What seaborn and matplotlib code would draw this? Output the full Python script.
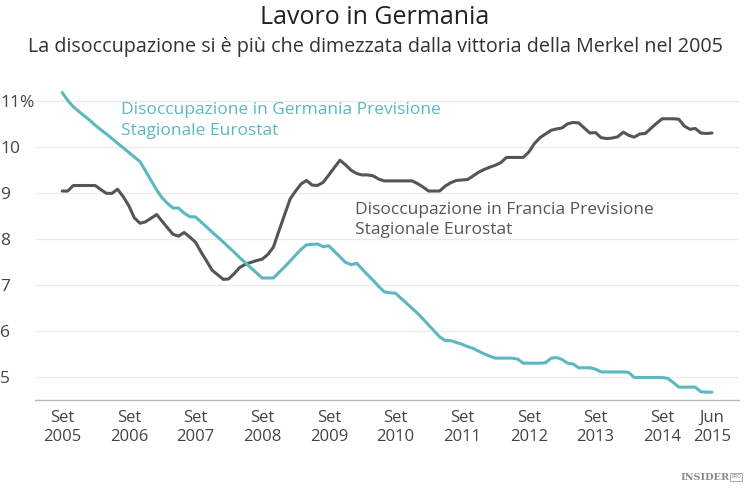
import pandas as pd
import matplotlib.pyplot as plt
import seaborn as sns

# dati mensili, set 2005 - giu 2015
germania = [11.18, 11.01, 10.87, 10.77, 10.67, 10.57, 10.47, 10.37, 10.28, 10.18,
            10.08, 9.98, 9.88, 9.78, 9.68, 9.48, 9.27, 9.06, 8.90, 8.77,
            8.67, 8.67, 8.56, 8.48, 8.48, 8.37, 8.26, 8.15, 8.04, 7.93,
            7.82, 7.71, 7.59, 7.48, 7.37, 7.26, 7.15, 7.15, 7.15, 7.27,
            7.39, 7.52, 7.64, 7.77, 7.87, 7.88, 7.89, 7.83, 7.85, 7.73,
            7.61, 7.49, 7.44, 7.47, 7.35, 7.22, 7.10, 6.97, 6.85, 6.83,
            6.82, 6.71, 6.60, 6.49, 6.38, 6.25, 6.13, 6.00, 5.87, 5.79,
            5.79, 5.75, 5.71, 5.66, 5.62, 5.56, 5.50, 5.45, 5.41, 5.41,
            5.41, 5.41, 5.39, 5.30, 5.30, 5.30, 5.30, 5.31, 5.41, 5.42,
            5.38, 5.30, 5.28, 5.20, 5.20, 5.20, 5.17, 5.11, 5.11, 5.11,
            5.11, 5.11, 5.10, 4.99, 4.99, 4.99, 4.99, 4.99, 4.99, 4.97,
            4.88, 4.78, 4.78, 4.78, 4.78, 4.68, 4.67, 4.67]
francia = [9.04, 9.04, 9.16, 9.16, 9.16, 9.16, 9.16, 9.07, 8.99, 8.99,
           9.08, 8.92, 8.72, 8.46, 8.34, 8.37, 8.45, 8.53, 8.39, 8.24,
           8.10, 8.06, 8.14, 8.04, 7.93, 7.72, 7.52, 7.32, 7.22, 7.12,
           7.13, 7.25, 7.38, 7.45, 7.49, 7.53, 7.56, 7.66, 7.82, 8.17,
           8.52, 8.87, 9.03, 9.19, 9.27, 9.17, 9.16, 9.23, 9.39, 9.55,
           9.71, 9.61, 9.49, 9.42, 9.39, 9.39, 9.37, 9.30, 9.26, 9.26,
           9.26, 9.26, 9.26, 9.26, 9.20, 9.12, 9.04, 9.04, 9.04, 9.15,
           9.22, 9.27, 9.28, 9.29, 9.37, 9.45, 9.51, 9.56, 9.60, 9.66,
           9.77, 9.77, 9.77, 9.77, 9.89, 10.07, 10.20, 10.28, 10.36, 10.39,
           10.41, 10.50, 10.53, 10.52, 10.41, 10.30, 10.31, 10.20, 10.18, 10.19,
           10.22, 10.32, 10.25, 10.21, 10.28, 10.29, 10.40, 10.51, 10.61, 10.61,
           10.61, 10.60, 10.45, 10.38, 10.40, 10.30, 10.29, 10.30]

mesi = pd.date_range('2005-09-01', periods=len(germania), freq='MS')
tick_date = ['2005-09-01', '2006-09-01', '2007-09-01', '2008-09-01', '2009-09-01',
             '2010-09-01', '2011-09-01', '2012-09-01', '2013-09-01', '2014-09-01',
             '2015-06-01']
tick_lab = ['Set\n2005', 'Set\n2006', 'Set\n2007', 'Set\n2008', 'Set\n2009',
            'Set\n2010', 'Set\n2011', 'Set\n2012', 'Set\n2013', 'Set\n2014',
            'Jun\n2015']
y_ticks = [5, 6, 7, 8, 9, 10, 11]
y_lab = ['5', '6', '7', '8', '9', '10', '11%']

df = pd.DataFrame({'mese': mesi, 'Germania': germania, 'Francia': francia})

sns.set_theme(style='white')
plt.rcParams['font.family'] = ['Open Sans', 'DejaVu Sans']

teal = '#5cb8bf'
grigio = '#555555'

fig = plt.figure(figsize=(7.5, 4.92), dpi=100)
ax = fig.add_axes([35 / 750, 1 - 400 / 492, 704 / 750, 313 / 492])

sns.lineplot(data=df, x='mese', y='Francia', color=grigio, lw=2.2, ax=ax)
sns.lineplot(data=df, x='mese', y='Germania', color=teal, lw=2.2, ax=ax)

ax.set_xlim(pd.Timestamp('2005-04-05'), pd.Timestamp('2015-10-27'))
ax.set_ylim(4.5, 11.3)
ax.set_yticks(y_ticks)
ax.set_yticklabels(y_lab)
ax.set_xticks(pd.to_datetime(tick_date))
ax.set_xticklabels(tick_lab, linespacing=1.3)
ax.set_xlabel('')
ax.set_ylabel('')

ax.grid(axis='y', color='#ebebeb', lw=0.9)
ax.set_axisbelow(True)
for s in ['top', 'right', 'left']:
    ax.spines[s].set_visible(False)
ax.spines['bottom'].set_color('#bbbbbb')
ax.spines['bottom'].set_linewidth(1)

ax.tick_params(axis='x', length=3, color='#bbbbbb', labelsize=12, labelcolor='#444444', pad=4)
ax.tick_params(axis='y', length=0, labelsize=12.5, labelcolor='#444444', pad=25)
for t in ax.get_yticklabels():
    t.set_horizontalalignment('left')
    t.set_bbox(dict(facecolor='white', edgecolor='none', pad=1))

ax.text(pd.Timestamp('2006-07-19'), 10.57, 'Disoccupazione in Germania Previsione\nStagionale Eurostat',
        color=teal, fontsize=12.5, linespacing=1.4, va='center')
ax.text(pd.Timestamp('2010-01-22'), 8.41, 'Disoccupazione in Francia Previsione\nStagionale Eurostat',
        color=grigio, fontsize=12.5, linespacing=1.4, va='center')

fig.text(0.5, 1 - 17 / 492, 'Lavoro in Germania', ha='center', va='center',
         fontsize=18, color='#222222')
fig.text(0.5, 1 - 47 / 492, 'La disoccupazione si è più che dimezzata dalla vittoria della Merkel nel 2005',
         ha='center', va='center', fontsize=14.2, color='#333333')

fig.text(730 / 750, 1 - 478 / 492, 'INSIDER', ha='right', va='center', fontsize=7,
         family='DejaVu Serif', weight='bold', color='#8a8a8a')
fig.text(731 / 750, 1 - 477 / 492, 'PRO', ha='left', va='center', fontsize=3.5,
         family='DejaVu Sans', color='#8a8a8a',
         bbox=dict(facecolor='none', edgecolor='#8a8a8a', lw=0.5, pad=0.8))

fig.savefig('out.png', dpi=100)
